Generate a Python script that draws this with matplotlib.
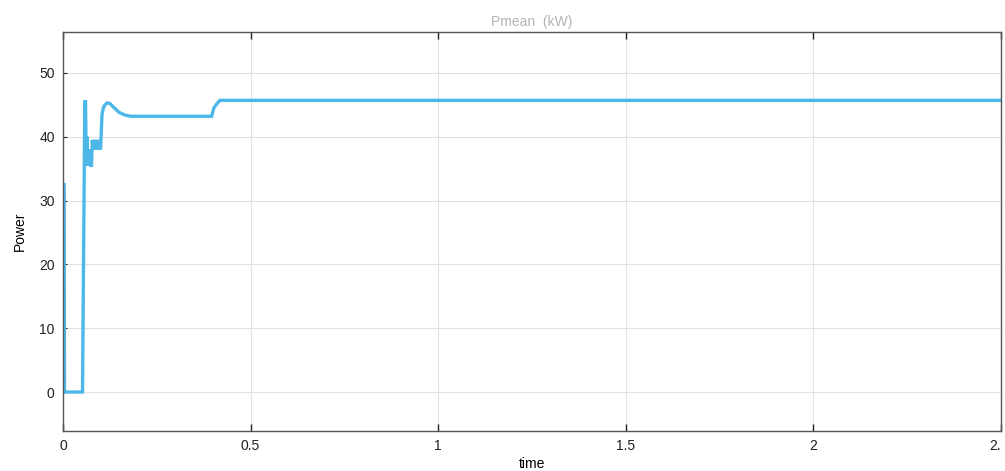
import matplotlib
matplotlib.use("Agg")
from matplotlib import pyplot as plt

# Pmean trace (time in s, power in kW)
time = [0.0, 0.003, 0.004, 0.050, 0.052, 0.058, 0.060, 0.062, 0.064, 0.066,
        0.068, 0.070, 0.072, 0.074, 0.076, 0.078, 0.080, 0.083, 0.086, 0.089,
        0.092, 0.095, 0.098, 0.100, 0.104, 0.108, 0.112, 0.118, 0.125, 0.135,
        0.150, 0.165, 0.180, 0.200, 0.300, 0.396, 0.402, 0.408, 0.418, 2.5]
power = [32.5, 32.5, 0.0, 0.0, 0.0, 45.5, 45.5, 35.5, 40.0, 35.5,
         38.0, 35.5, 38.0, 35.5, 35.5, 39.5, 38.0, 39.5, 38.0, 39.5,
         38.0, 39.5, 38.2, 38.0, 43.5, 44.6, 45.0, 45.3, 45.2, 44.6,
         43.8, 43.4, 43.2, 43.2, 43.2, 43.2, 44.5, 45.0, 45.7, 45.7]

xticks = [0, 0.5, 1, 1.5, 2, 2.5]
xticklabels = ["0", "0.5", "1", "1.5", "2", "2."]
yticks = [0, 10, 20, 30, 40, 50]

plt.rcParams['font.family'] = ['Liberation Sans', 'DejaVu Sans']

fig = plt.figure(figsize=(10.05, 4.71), dpi=100)
ax = fig.add_axes([0.0627, 0.085, 0.9333, 0.847])

ax.plot(time, power, color='#4db8e8', linewidth=2.4, solid_joinstyle='miter')

ax.set_xlim(0, 2.5)
ax.set_ylim(-6.1, 56.4)
ax.set_xticks(xticks)
ax.set_xticklabels(xticklabels)
ax.get_xticklabels()[-1].set_ha('right')
ax.set_yticks(yticks)
ax.grid(True, color='#e2e2e2', linewidth=0.8)
ax.tick_params(axis='x', direction='in', top=True, length=5, width=1,
               labelsize=10, colors='#222222', pad=6)
ax.tick_params(axis='y', direction='in', length=3, width=0.8,
               labelsize=10, colors='#222222', pad=6)
for s in ax.spines.values():
    s.set_color('#555555')
    s.set_linewidth(1.0)

ax.set_title('Pmean  (kW)', color='#b4b4b4', fontsize=10, pad=4)
ax.set_xlabel('time', fontsize=10, labelpad=3)
ax.set_ylabel('Power', fontsize=10, labelpad=9)

fig.savefig('out.png', dpi=100)
